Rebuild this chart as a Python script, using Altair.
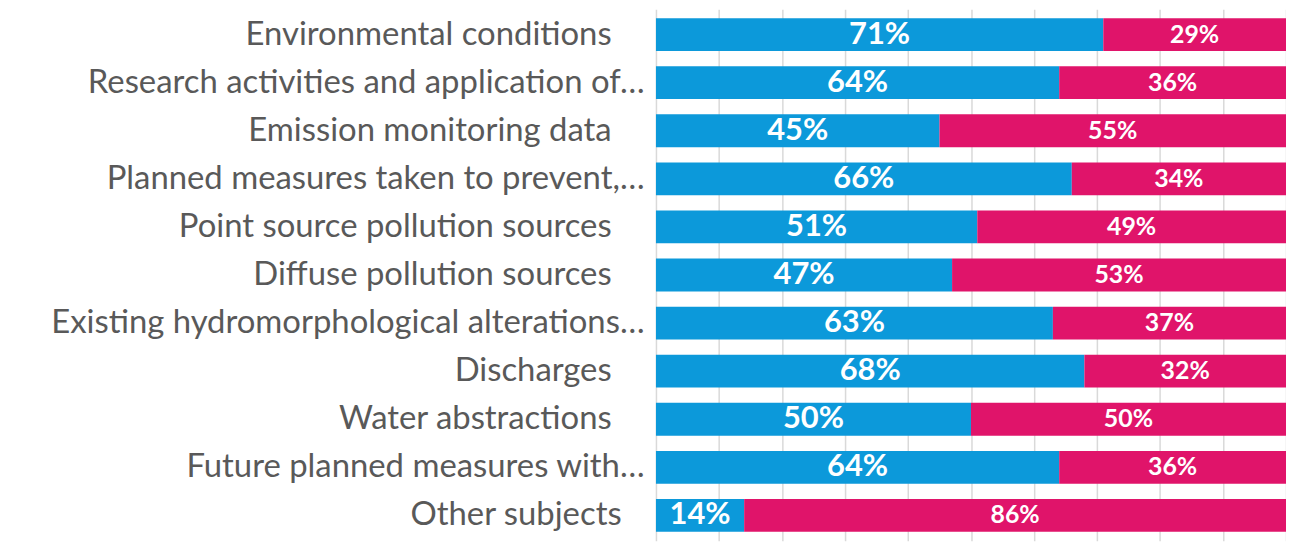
import altair as alt
import pandas as pd

categories = [
    "Environmental conditions",
    "Research activities and application of…",
    "Emission monitoring data",
    "Planned measures taken to prevent,…",
    "Point source pollution sources",
    "Diffuse pollution sources",
    "Existing hydromorphological alterations…",
    "Discharges",
    "Water abstractions",
    "Future planned measures with…",
    "Other subjects",
]
yes_values = [71, 64, 45, 66, 51, 47, 63, 68, 50, 64, 14]
no_values = [29, 36, 55, 34, 49, 53, 37, 32, 50, 36, 86]
series = ["Yes", "No"]
colors = ["#0C99DA", "#E0146A"]

rows = []
for i, c in enumerate(categories):
    rows.append({"cat": c, "series": "Yes", "order": 0, "value": yes_values[i]})
    rows.append({"cat": c, "series": "No", "order": 1, "value": no_values[i]})
df = pd.DataFrame(rows)

base = alt.Chart(df).transform_stack(
    stack="value", groupby=["cat"], as_=["v0", "v1"],
    sort=[alt.SortField("order", order="ascending")]
).transform_calculate(
    mid="(datum.v0 + datum.v1) / 2",
    lbl="datum.value + '%'"
)

pad_expr = ("indexof(datum.label, '…') >= 0 ? 12 : "
            "(datum.label == 'Other subjects' ? 35 : 45)")

y_enc = alt.Y("cat:N", sort=categories, title=None,
              scale=alt.Scale(paddingInner=0.317, paddingOuter=0.186),
              axis=alt.Axis(labelFont="Lato", labelFontSize=33, labelColor="#595959",
                            labelLimit=800, labelPadding=alt.ExprRef(pad_expr),
                            ticks=False, domain=False, grid=False))

bars = base.mark_bar().encode(
    x=alt.X("v0:Q", scale=alt.Scale(domain=[0, 100], nice=False), title=None,
            axis=alt.Axis(values=list(range(0, 101, 10)), labels=False, ticks=False,
                          domain=False, grid=True, gridColor="#D9D9D9", gridWidth=1.5)),
    x2="v1:Q",
    y=y_enc,
    color=alt.Color("series:N", scale=alt.Scale(domain=series, range=colors), legend=None),
)

text = base.mark_text(font="Lato", fontWeight="bold", color="white", baseline="middle").encode(
    x="mid:Q",
    y=alt.Y("cat:N", sort=categories),
    text="lbl:N",
    size=alt.Size("series:N", scale=alt.Scale(domain=series, range=[31, 25]), legend=None),
)

chart = alt.layer(bars, text).properties(
    width=633, height=534,
    padding={"left": 42, "top": 0, "right": 0, "bottom": 0},
).configure_view(stroke=None)

chart.save("out.html", embed_options={"renderer": "svg", "actions": False})
